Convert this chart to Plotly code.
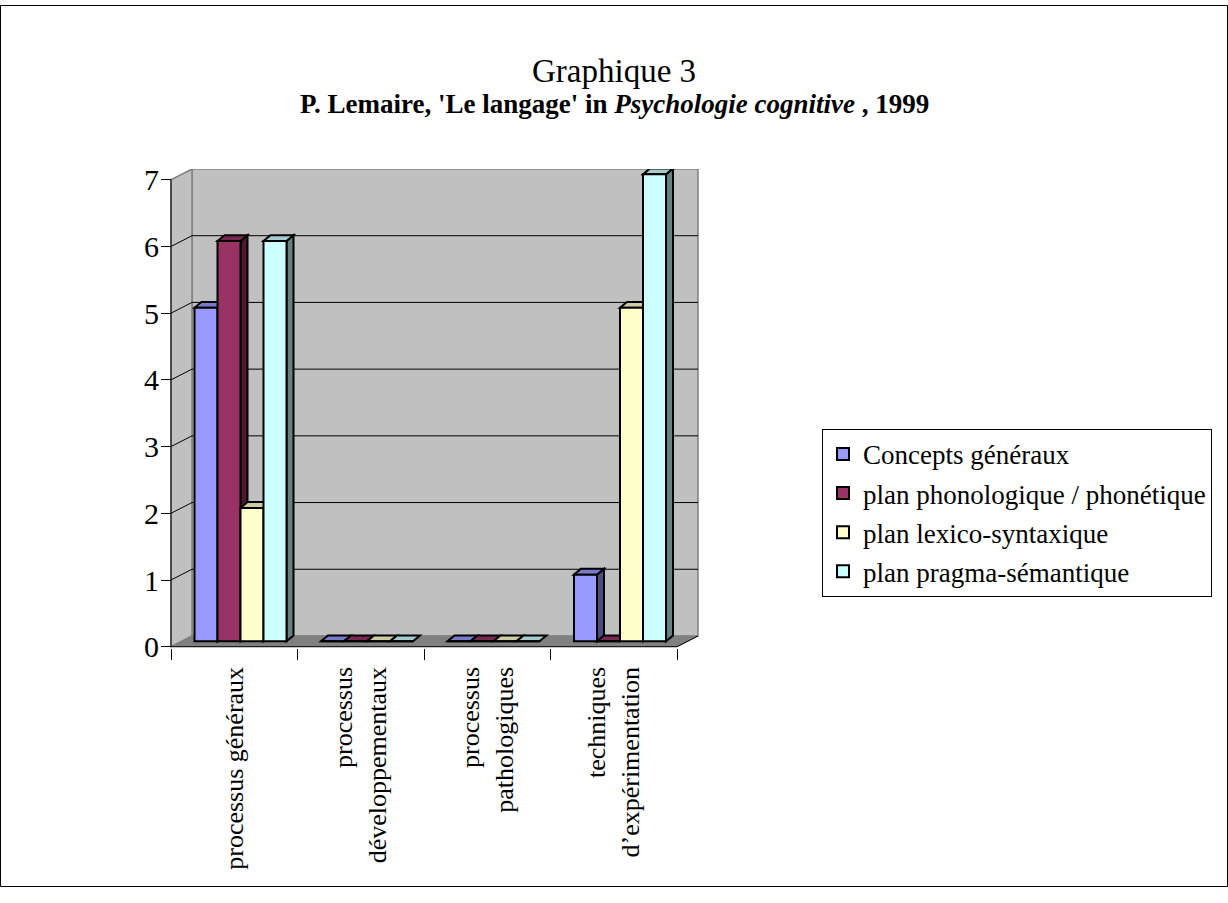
import plotly.graph_objects as go

# ---------------- data ----------------
categories = [
    "processus généraux",
    "processus<br>développementaux",
    "processus<br>pathologiques",
    "techniques<br>d’expérimentation",
]
series_names = [
    "Concepts généraux",
    "plan phonologique / phonétique",
    "plan lexico-syntaxique",
    "plan pragma-sémantique",
]
concepts_generaux = [5, 0, 0, 1]
plan_phonologique = [6, 0, 0, 0]
plan_lexico = [2, 0, 0, 5]
plan_pragma = [6, 0, 0, 7]
series_values = [concepts_generaux, plan_phonologique, plan_lexico, plan_pragma]
y_ticks = [0, 1, 2, 3, 4, 5, 6, 7]

# ---------------- style ----------------
front_colors = ["#9999FF", "#993366", "#FFFFCC", "#CCFFFF"]
FONT = "Liberation Serif, Times New Roman, serif"
W, H = 1228, 903


def shade(hex_color, f):
    h = hex_color.lstrip("#")
    r, g, b = (int(h[i:i + 2], 16) for i in (0, 2, 4))
    return "#%02X%02X%02X" % (int(r * f), int(g * f), int(b * f))


def px_x(p):
    return p / W


def px_y(p):
    return 1 - p / H


PPX = 126.5
PPY = 68.3
DEPTH_X = 21 / PPX
DEPTH_Y = 11 / PPY
BAR_BASE = 5.5 / PPY
BAR_W = 23 / PPX
BAR_START = -0.5 + 23.5 / PPX
SIDE_X = 7 / PPX
SIDE_Y = 6 / PPY
n_cat = len(categories)
y_max = max(y_ticks)

x_range = [-0.5 - 11 / PPX, n_cat - 0.5 + DEPTH_X + 0.012]
y_range = [-1 / PPY, y_max + DEPTH_Y]
front_left_px = 171
x_dom = [px_x(front_left_px + (x_range[0] + 0.5) * PPX), px_x(front_left_px + (x_range[1] + 0.5) * PPX)]
front_bottom_px = 657
y_dom = [px_y(front_bottom_px - y_range[0] * PPY), px_y(front_bottom_px - y_range[1] * PPY)]

fig = go.Figure()

shapes = []
XL = -0.5
XR = n_cat - 0.5
# back wall
shapes.append(dict(type="rect", xref="x", yref="y", x0=XL + DEPTH_X, x1=XR + DEPTH_X,
                   y0=DEPTH_Y, y1=y_max + DEPTH_Y, fillcolor="#C0C0C0",
                   line=dict(color="#808080", width=1.5), layer="below"))
# left wall
shapes.append(dict(type="path", xref="x", yref="y",
                   path=f"M{XL},0 L{XL + DEPTH_X},{DEPTH_Y} L{XL + DEPTH_X},{y_max + DEPTH_Y} L{XL},{y_max} Z",
                   fillcolor="#C0C0C0", line=dict(color="#808080", width=1.5), layer="below"))
# floor
shapes.append(dict(type="path", xref="x", yref="y",
                   path=f"M{XL},0 L{XR},0 L{XR + DEPTH_X},{DEPTH_Y} L{XL + DEPTH_X},{DEPTH_Y} Z",
                   fillcolor="#808080", line=dict(color="#808080", width=1), layer="below"))
# gridlines
for v in y_ticks[1:-1]:
    shapes.append(dict(type="line", xref="x", yref="y", x0=XL + DEPTH_X, x1=XR + DEPTH_X,
                       y0=v + DEPTH_Y, y1=v + DEPTH_Y, line=dict(color="black", width=1), layer="below"))
    shapes.append(dict(type="line", xref="x", yref="y", x0=XL, x1=XL + DEPTH_X,
                       y0=v, y1=v + DEPTH_Y, line=dict(color="black", width=1), layer="below"))
# front axis lines
shapes.append(dict(type="line", xref="x", yref="y", x0=XL, x1=XR, y0=0, y1=0,
                   line=dict(color="black", width=1), layer="below"))
shapes.append(dict(type="line", xref="x", yref="y", x0=XR, x1=XR + DEPTH_X, y0=0, y1=DEPTH_Y,
                   line=dict(color="black", width=1), layer="below"))
shapes.append(dict(type="line", xref="x", yref="y", x0=XL, x1=XL, y0=0, y1=y_max,
                   line=dict(color="black", width=1), layer="above"))

# bar side / top faces derived from the data
for ci in range(n_cat):
    for si, vals in enumerate(series_values):
        v = vals[ci]
        x0 = ci + BAR_START + si * BAR_W
        x1 = x0 + BAR_W
        b = BAR_BASE
        t = b + v
        col = front_colors[si]
        if v > 0:
            shapes.append(dict(type="path", xref="x", yref="y",
                               path=f"M{x1},{b} L{x1 + SIDE_X},{b + SIDE_Y} L{x1 + SIDE_X},{t + SIDE_Y} L{x1},{t} Z",
                               fillcolor=shade(col, 0.5), line=dict(color="black", width=2), layer="below"))
        shapes.append(dict(type="path", xref="x", yref="y",
                           path=f"M{x0},{t} L{x0 + SIDE_X},{t + SIDE_Y} L{x1 + SIDE_X},{t + SIDE_Y} L{x1},{t} Z",
                           fillcolor=shade(col, 0.8), line=dict(color="black", width=2), layer="below"))

for si, (name, vals) in enumerate(zip(series_names, series_values)):
    fig.add_trace(go.Bar(
        x=categories, y=vals, base=BAR_BASE, name=name,
        offset=BAR_START + si * BAR_W, width=BAR_W,
        marker=dict(color=front_colors[si], line=dict(color="black", width=2)),
        legendgroup=name,
    ))

# outer border
shapes.append(dict(type="rect", xref="paper", yref="paper", x0=px_x(0.5), x1=px_x(W - 0.5),
                   y0=px_y(H - 0.5), y1=px_y(0.5), line=dict(color="black", width=1),
                   fillcolor="rgba(0,0,0,0)", layer="above"))

fig.update_layout(
    width=W, height=H,
    margin=dict(l=0, r=0, t=0, b=0),
    paper_bgcolor="white", plot_bgcolor="rgba(0,0,0,0)",
    barmode="overlay",
    shapes=shapes,
    font=dict(family=FONT, color="black"),
    xaxis=dict(type="category", domain=x_dom, range=x_range, showgrid=False, zeroline=False,
               showline=False, ticks="outside", tickson="boundaries", ticklen=11,
               tickcolor="black", tickangle=-90, tickfont=dict(family=FONT, size=26, color="black"),
               ticklabelstandoff=13, anchor="y", fixedrange=True),
    yaxis=dict(domain=y_dom, range=y_range, showgrid=False, zeroline=False, showline=False,
               anchor="free", position=px_x(front_left_px), ticks="outside", ticklen=10,
               tickcolor="black", tickvals=y_ticks, tickfont=dict(family=FONT, size=30, color="black"),
               ticklabelstandoff=-4, fixedrange=True),
    legend=dict(x=px_x(822), y=px_y(434), xanchor="left", yanchor="top",
                bordercolor="black", borderwidth=1, bgcolor="white",
                font=dict(family=FONT, size=27, color="black"),
                traceorder="grouped", tracegroupgap=1),
    showlegend=True,
    annotations=[
        dict(text="Graphique 3", xref="paper", yref="paper", x=0.5, y=px_y(68),
             showarrow=False, font=dict(family=FONT, size=33, color="black"), yanchor="middle"),
        dict(text="<b>P. Lemaire, 'Le langage' in <i>Psychologie cognitive</i> , 1999</b>",
             xref="paper", yref="paper", x=0.5, y=px_y(101), showarrow=False,
             font=dict(family=FONT, size=27, color="black"), yanchor="middle"),
    ],
)

fig.write_html("out.html", config={"displayModeBar": False},
               post_script="document.body.style.margin='0';")
